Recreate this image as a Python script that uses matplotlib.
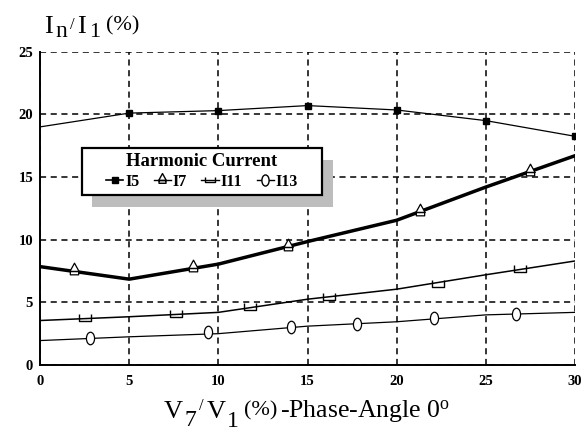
import numpy as np
import matplotlib
matplotlib.use('Agg')
from matplotlib import pyplot as plt
from matplotlib.path import Path
from matplotlib.patches import Rectangle
from matplotlib.lines import Line2D

plt.rcParams['font.family'] = 'Liberation Serif'
plt.rcParams['mathtext.fontset'] = 'custom'
plt.rcParams['mathtext.rm'] = 'Liberation Serif'
plt.rcParams['mathtext.it'] = 'Liberation Serif:italic'
plt.rcParams['mathtext.bf'] = 'Liberation Serif:bold'

# V7/V1 in %
v7 = [0, 5, 10, 15, 20, 25, 30]

# harmonic currents In/I1 in % (curves)
i5 = [19.0, 20.1, 20.3, 20.7, 20.35, 19.5, 18.25]
i7 = [7.85, 6.85, 8.05, 9.85, 11.55, 14.2, 16.7]
i11 = [3.55, 3.85, 4.2, 5.25, 6.05, 7.2, 8.3]
i13 = [1.95, 2.25, 2.5, 3.1, 3.45, 4.0, 4.2]

# measured points drawn as symbols
i5_mx = [5, 10, 15, 20, 25, 30]
i5_my = [20.1, 20.3, 20.7, 20.35, 19.5, 18.25]
i7_mx = [1.9, 8.6, 13.9, 21.3, 27.5]
i7_my = [7.5, 7.75, 9.45, 12.2, 15.4]
i11_mx = [2.5, 7.6, 11.8, 16.2, 22.3, 26.9]
i11_my = [3.75, 4.05, 4.65, 5.4, 6.5, 7.65]
i13_mx = [2.8, 9.4, 14.1, 17.8, 22.1, 26.7]
i13_my = [2.15, 2.6, 3.05, 3.3, 3.72, 4.1]

legend_labels = ['I5', 'I7', 'I11', 'I13']

# custom symbols: triangle sitting on a small box, flat cup, tall ellipse
tri_box = Path([(0, 1.0), (-0.55, 0), (0.55, 0), (0, 1.0),
                (-0.5, 0), (-0.5, -0.4), (0.5, -0.4), (0.5, 0), (-0.5, 0)],
               [Path.MOVETO, Path.LINETO, Path.LINETO, Path.CLOSEPOLY,
                Path.MOVETO, Path.LINETO, Path.LINETO, Path.LINETO, Path.CLOSEPOLY])
cup = Path([(-0.7, 0.45), (-0.7, -0.35), (0.7, -0.35), (0.7, 0.45)],
           [Path.MOVETO, Path.LINETO, Path.LINETO, Path.LINETO])
circ = Path.unit_circle()
ellipse = Path(circ.vertices * np.array([0.65, 1.0]), circ.codes)

W, H = 582, 436
fig = plt.figure(figsize=(W / 100, H / 100), dpi=100)
ax = fig.add_axes([40 / W, 1 - 365 / H, 535 / W, 313.3 / H])

ax.plot(v7, i5, color='k', lw=0.9)
ax.plot(i5_mx, i5_my, ls='none', marker='s', ms=4.5, color='k')
ax.plot(v7, i7, color='k', lw=2.5)
ax.plot(i7_mx, i7_my, ls='none', marker=tri_box, ms=12, mfc='white', mec='k', mew=0.9)
ax.plot(v7, i11, color='k', lw=1.1)
ax.plot(i11_mx, i11_my, ls='none', marker=cup, ms=8, mfc='none', mec='k', mew=1.0)
ax.plot(v7, i13, color='k', lw=0.9)
ax.plot(i13_mx, i13_my, ls='none', marker=ellipse, ms=9, mfc='white', mec='k', mew=0.9)

ax.set_xlim(0, 30)
ax.set_ylim(0, 25)
ax.set_xticks(range(0, 31, 5))
ax.set_yticks(range(0, 26, 5))
ax.set_axisbelow(True)
ax.grid(True, color='k', ls=(0, (4, 3)), lw=1.1)
ax.spines['top'].set_visible(False)
ax.spines['right'].set_visible(False)
ax.spines['left'].set_linewidth(1.4)
ax.spines['bottom'].set_linewidth(1.4)
ax.tick_params(axis='x', length=0, pad=7, labelsize=10.5)
ax.tick_params(axis='y', length=0, pad=5, labelsize=10.5)
for lab in ax.get_xticklabels() + ax.get_yticklabels():
    lab.set_fontweight('bold')

# legend box with a stippled shadow
ax.add_patch(Rectangle((0.0972, 0.5043), 0.4505, 0.15, transform=ax.transAxes,
                       facecolor='0.74', edgecolor='none', zorder=4))
ax.add_patch(Rectangle((0.0785, 0.5426), 0.4485, 0.15, transform=ax.transAxes,
                       facecolor='white', edgecolor='k', lw=1.6, zorder=4.5))
handles = [
    Line2D([], [], color='k', lw=1.2, marker='s', ms=4),
    Line2D([], [], color='k', lw=1.0, marker=tri_box, ms=10, mfc='white', mec='k'),
    Line2D([], [], color='k', lw=1.0, marker=cup, ms=7, mfc='none', mec='k'),
    Line2D([], [], color='k', lw=1.0, marker=ellipse, ms=8, mfc='white', mec='k'),
]
leg = ax.legend(handles, legend_labels, loc='center', bbox_to_anchor=(0.3028, 0.6176),
                ncol=4, title='Harmonic Current', frameon=False,
                handlelength=1.1, handletextpad=0.1, columnspacing=0.9,
                borderpad=0.0, labelspacing=0.2,
                prop={'weight': 'bold', 'size': 11.5},
                title_fontproperties={'weight': 'bold', 'size': 13.5})
leg.set_zorder(5)

renderer = fig.canvas.get_renderer()


def put_row(x, parts):
    # lay pieces of a label side by side: (text, size, baseline y px, gap after)
    for s, size, y, gap in parts:
        t = fig.text(x / W, 1 - y / H, s, fontsize=size, ha='left', va='baseline')
        x += t.get_window_extent(renderer).width + gap


put_row(44, [('I', 19, 33, 3), ('n', 17, 37, 2), ('/', 12, 29, 3), ('I', 19, 33, 3),
             ('1', 16, 37, 6), ('(%)', 16, 30, 0)])

put_row(164, [('V', 19, 418, 2), ('7', 17, 426, 2), ('/', 12, 410, 3), ('V', 19, 418, 2),
              ('1', 17, 427, 5), ('(%)', 16, 415, 2),
              (r'-Phase-Angle 0$^{\mathrm{o}}$', 18.5, 418, 0)])

fig.savefig('out.png', dpi=100)
